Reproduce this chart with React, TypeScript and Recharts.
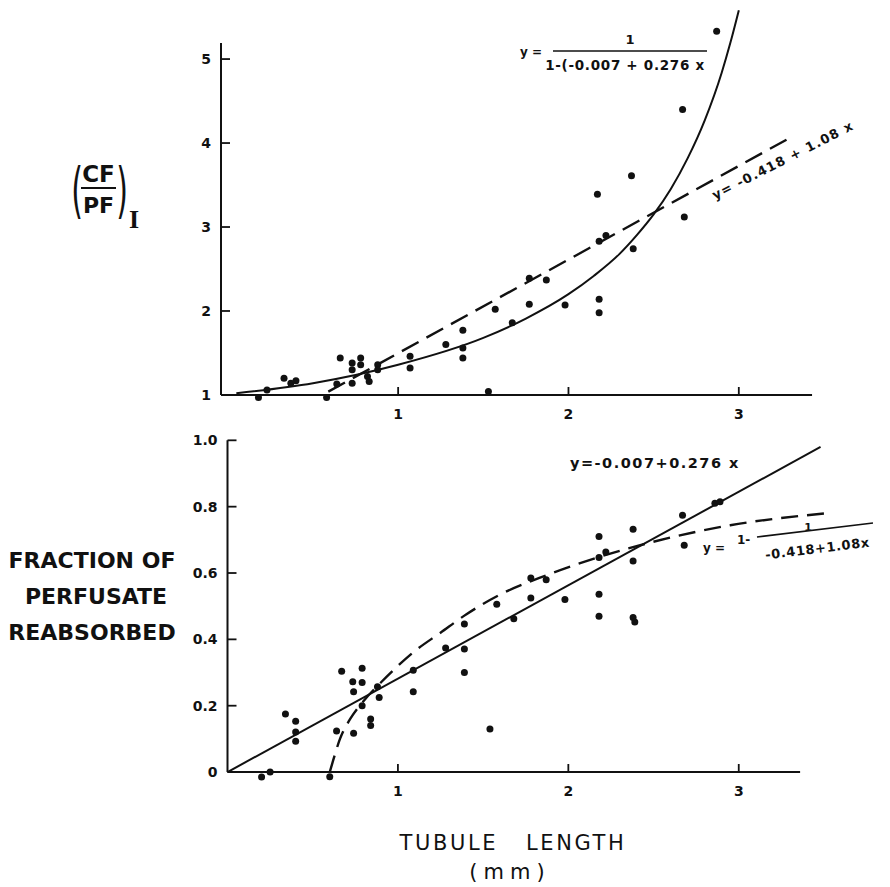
import { ComposedChart, Line, Scatter, XAxis, YAxis, ReferenceLine } from 'recharts'

// measured points, upper panel: (CF/PF)I against tubule length (mm)
const ratioLength = [
  0.18, 0.23, 0.33, 0.37, 0.4, 0.58, 0.64, 0.66, 0.73, 0.73, 0.73, 0.78, 0.78, 0.82, 0.83, 0.88, 0.88,
  1.07, 1.07, 1.28, 1.38, 1.38, 1.38, 1.53, 1.57, 1.67, 1.77, 1.77, 1.87, 1.98, 2.17, 2.18, 2.18, 2.18,
  2.22, 2.37, 2.38, 2.67, 2.68, 2.87,
]
const ratioValue = [
  0.97, 1.06, 1.2, 1.14, 1.17, 0.97, 1.13, 1.44, 1.38, 1.3, 1.14, 1.44, 1.36, 1.22, 1.16, 1.36, 1.3,
  1.46, 1.32, 1.6, 1.77, 1.56, 1.44, 1.04, 2.02, 1.86, 2.39, 2.08, 2.37, 2.07, 3.39, 2.83, 2.14, 1.98,
  2.9, 3.61, 2.74, 4.4, 3.12, 5.33,
]

// measured points, lower panel: fraction of perfusate reabsorbed
const fractionLength = [
  0.2, 0.25, 0.34, 0.4, 0.4, 0.4, 0.6, 0.64, 0.67, 0.735, 0.74, 0.74, 0.79, 0.79, 0.79, 0.84, 0.84,
  0.88, 0.89, 1.09, 1.09, 1.28, 1.39, 1.39, 1.39, 1.54, 1.58, 1.68, 1.78, 1.78, 1.87, 1.98, 2.18, 2.18,
  2.18, 2.18, 2.22, 2.38, 2.38, 2.38, 2.39, 2.67, 2.68, 2.86, 2.89,
]
const fractionValue = [
  -0.015, 0.0, 0.175, 0.153, 0.121, 0.093, -0.014, 0.124, 0.304, 0.272, 0.242, 0.117, 0.313, 0.27, 0.2,
  0.16, 0.14, 0.257, 0.225, 0.307, 0.242, 0.374, 0.446, 0.371, 0.3, 0.13, 0.506, 0.462, 0.525, 0.585,
  0.58, 0.52, 0.71, 0.647, 0.536, 0.47, 0.663, 0.732, 0.636, 0.466, 0.452, 0.774, 0.684, 0.81, 0.815,
]

// fitted curves
const ratioSolidX = [0.05, 0.5, 1.0, 1.5, 1.75, 2.0, 2.15, 2.3, 2.4, 2.5, 2.6, 2.7, 2.8, 2.9, 2.95, 3.0]
const ratioSolidY = [1.02, 1.14, 1.36, 1.68, 1.91, 2.2, 2.42, 2.68, 2.9, 3.15, 3.45, 3.82, 4.27, 4.84, 5.19, 5.58]
const ratioDashedX = [0.59, 3.28]
const ratioDashedY = [1.04, 4.04]

const fractionSolidX = [0, 3.48]
const fractionSolidY = [0, 0.98]
const fractionDashedX = [0.6, 0.62, 0.66, 0.72, 0.8, 0.9, 1.0, 1.1, 1.25, 1.4, 1.6, 1.87, 2.18, 2.49, 2.95, 3.51]
const fractionDashedY = [0, 0.035, 0.1, 0.16, 0.215, 0.27, 0.32, 0.365, 0.42, 0.475, 0.535, 0.593, 0.648, 0.693, 0.744, 0.78]

const lengthTicks = [1, 2, 3]
const ratioTicks = [1, 2, 3, 4, 5]
const fractionTicks = [0, 0.2, 0.4, 0.6, 0.8, 1.0]
const fractionTickLabels = ['0', '0.2', '0.4', '0.6', '0.8', '1.0']

const pairs = (xs: number[], ys: number[]) => xs.map((x, i) => ({ x, y: ys[i] }))

const INK = '#111'
const FONT = '"DejaVu Sans", sans-serif'

const Dot = (p: any) => <circle cx={p.cx} cy={p.cy} r={3.5} fill={INK} />

const yTick = (labels?: string[], values?: number[]) => (p: any) => {
  const v = p.payload.value
  const label = labels && values ? labels[values.indexOf(v)] : String(v)
  return (
    <g>
      <line x1={p.x} x2={p.x + 9} y1={p.y} y2={p.y} stroke={INK} strokeWidth={1.8} />
      <text x={p.x - 10} y={p.y} dy="0.36em" textAnchor="end" fontFamily={FONT} fontWeight="bold" fontSize={14} fill={INK}>
        {label}
      </text>
    </g>
  )
}

// the drawn x axis sits a few px above the bottom of the plot area
const xTick = (lift: number) => (p: any) => (
  <g>
    <line x1={p.x} x2={p.x} y1={p.y - lift} y2={p.y - lift - 8} stroke={INK} strokeWidth={1.8} />
    <text x={p.x} y={p.y - lift + 24} textAnchor="middle" fontFamily={FONT} fontWeight="bold" fontSize={14} fill={INK}>
      {p.payload.value}
    </text>
  </g>
)

function RatioPanel() {
  return (
    <ComposedChart width={890} height={430} margin={{ top: 7, right: 49, bottom: 0, left: 181 }}>
      <XAxis type="number" dataKey="x" domain={[-0.04, 3.6]} ticks={lengthTicks} axisLine={false} tickLine={false}
        tickSize={0} tickMargin={0} height={30} tick={xTick(5)} />
      <YAxis type="number" dataKey="y" domain={[0.94, 5.62]} ticks={ratioTicks} axisLine={false} tickLine={false}
        tickSize={0} tickMargin={0} width={40} tick={yTick()} />
      <ReferenceLine segment={[{ x: -0.04, y: 1 }, { x: 3.43, y: 1 }]} stroke={INK} strokeWidth={2} />
      <ReferenceLine segment={[{ x: -0.04, y: 1 }, { x: -0.04, y: 5.19 }]} stroke={INK} strokeWidth={2} />
      <Line data={pairs(ratioSolidX, ratioSolidY)} dataKey="y" type="monotone" stroke={INK} strokeWidth={2}
        dot={false} isAnimationActive={false} />
      <Line data={pairs(ratioDashedX, ratioDashedY)} dataKey="y" type="linear" stroke={INK} strokeWidth={2.4}
        strokeDasharray="19 9" dot={false} isAnimationActive={false} />
      <Scatter data={pairs(ratioLength, ratioValue)} dataKey="y" shape={Dot} isAnimationActive={false} />
    </ComposedChart>
  )
}

function FractionPanel() {
  return (
    <ComposedChart width={890} height={387} margin={{ top: 12, right: 49, bottom: 0, left: 187.5 }}>
      <XAxis type="number" dataKey="x" domain={[0, 3.6]} ticks={lengthTicks} axisLine={false} tickLine={false}
        tickSize={0} tickMargin={0} height={30} tick={xTick(10)} />
      <YAxis type="number" dataKey="y" domain={[-0.03, 1.01]} ticks={fractionTicks} axisLine={false} tickLine={false}
        tickSize={0} tickMargin={0} width={40} tick={yTick(fractionTickLabels, fractionTicks)} />
      <ReferenceLine segment={[{ x: 0, y: 0 }, { x: 3.36, y: 0 }]} stroke={INK} strokeWidth={2} />
      <ReferenceLine segment={[{ x: 0, y: 0 }, { x: 0, y: 1.0 }]} stroke={INK} strokeWidth={2} />
      <Line data={pairs(fractionSolidX, fractionSolidY)} dataKey="y" type="linear" stroke={INK} strokeWidth={2}
        dot={false} isAnimationActive={false} />
      <Line data={pairs(fractionDashedX, fractionDashedY)} dataKey="y" type="monotone" stroke={INK} strokeWidth={2.4}
        strokeDasharray="17 9" dot={false} isAnimationActive={false} />
      <Scatter data={pairs(fractionLength, fractionValue)} dataKey="y" shape={Dot} isAnimationActive={false} />
    </ComposedChart>
  )
}

function Annotations() {
  const t = { fontFamily: FONT, fill: INK }
  return (
    <svg width={890} height={887} style={{ position: 'absolute', left: 0, top: 0, pointerEvents: 'none' }}>
      {/* upper panel label */}
      <text x={77} y={211} {...t} fontSize={60} transform="translate(77 0) scale(0.5 1) translate(-77 0)" textAnchor="middle">(</text>
      <text x={98.5} y={182} {...t} fontSize={23} fontWeight="bold" textAnchor="middle">CF</text>
      <line x1={81} x2={116} y1={188} y2={188} stroke={INK} strokeWidth={2} />
      <text x={98.5} y={213} {...t} fontSize={22} fontWeight="bold" textAnchor="middle">PF</text>
      <text x={122} y={211} {...t} fontSize={60} transform="translate(122 0) scale(0.5 1) translate(-122 0)" textAnchor="middle">)</text>
      <text x={134} y={228} fontFamily='"Liberation Serif", serif' fill={INK} fontSize={26} fontWeight="bold" textAnchor="middle">I</text>

      {/* lower panel label */}
      <text x={92} y={568} {...t} fontSize={22} fontWeight="bold" textAnchor="middle">FRACTION OF</text>
      <text x={96} y={604} {...t} fontSize={22} fontWeight="bold" textAnchor="middle">PERFUSATE</text>
      <text x={92} y={640} {...t} fontSize={22} fontWeight="bold" textAnchor="middle">REABSORBED</text>

      {/* x axis title */}
      <text x={513} y={850} {...t} fontSize={21} letterSpacing={2.6} textAnchor="middle" style={{ whiteSpace: 'pre' }}>
        {'TUBULE   LENGTH'}
      </text>
      <text x={510} y={879} {...t} fontSize={21} letterSpacing={6} textAnchor="middle">(mm)</text>

      {/* upper panel equations */}
      <text x={520} y={56} {...t} fontSize={12} fontWeight="bold">y =</text>
      <text x={630} y={44} {...t} fontSize={13} fontWeight="bold" textAnchor="middle">1</text>
      <line x1={553} x2={707} y1={51} y2={51} stroke={INK} strokeWidth={1.6} />
      <text x={625} y={70} {...t} fontSize={13.5} fontWeight="bold" textAnchor="middle" letterSpacing={0.7}>1-(-0.007 + 0.276 x</text>
      <text x={715} y={200} {...t} fontSize={13} fontWeight="bold" letterSpacing={1.2} transform="rotate(-27 715 200)">y= -0.418 + 1.08 x</text>

      {/* lower panel equations */}
      <text x={570} y={468} {...t} fontSize={14.5} fontWeight="bold" letterSpacing={1.5}>y=-0.007+0.276 x</text>
      <text x={703} y={552} {...t} fontSize={12} fontWeight="bold">y =</text>
      <text x={737} y={544} {...t} fontSize={12} fontWeight="bold">1-</text>
      <line x1={757} x2={873} y1={537} y2={523} stroke={INK} strokeWidth={1.6} />
      <text x={808} y={531} {...t} fontSize={11} fontWeight="bold" textAnchor="middle">1</text>
      <text x={818} y={553} {...t} fontSize={13} fontWeight="bold" textAnchor="middle" letterSpacing={0.6}
        transform="rotate(-7 818 553)">-0.418+1.08x</text>
    </svg>
  )
}

export default function App() {
  return (
    <div style={{ position: 'absolute', left: 0, top: 0, width: 890, height: 887, background: '#fff' }}>
      <div style={{ position: 'absolute', left: 0, top: 0 }}>
        <RatioPanel />
      </div>
      <div style={{ position: 'absolute', left: 0, top: 425 }}>
        <FractionPanel />
      </div>
      <Annotations />
    </div>
  )
}
